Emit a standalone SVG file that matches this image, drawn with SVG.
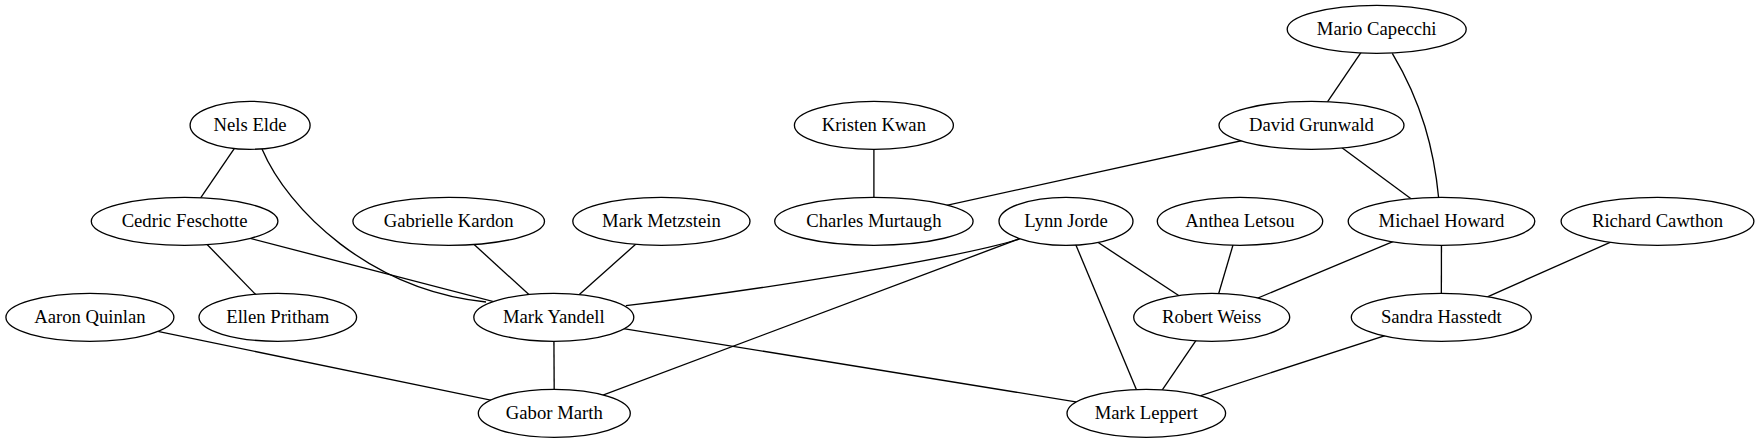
<svg xmlns="http://www.w3.org/2000/svg" width="1761" height="443" viewBox="0 0 1761 443">
<style>
.n ellipse{fill:#fff;stroke:#000;stroke-width:1.33}
.n text{font-family:"Liberation Serif","Times New Roman",serif;font-size:18.67px;text-anchor:middle;fill:#000}
#edges line,#edges path{stroke:#000;stroke-width:1.33;fill:none}
</style>
<rect width="1761" height="443" fill="#fff"/>
<g id="edges">
<line x1="1376.7" y1="29.3" x2="1311.5" y2="125.3"/>
<path d="M1392.3,53.3 C1422,103 1434,150 1438.6,197.5"/>
<line x1="250.1" y1="125.3" x2="184.6" y2="221.3"/>
<path d="M262,149 C288,210 370,290 486,302"/>
<line x1="873.9" y1="125.3" x2="873.9" y2="221.3"/>
<line x1="1311.5" y1="125.3" x2="873.9" y2="221.3"/>
<line x1="1311.5" y1="125.3" x2="1441.5" y2="221.3"/>
<line x1="184.6" y1="221.3" x2="277.8" y2="317.3"/>
<line x1="184.6" y1="221.3" x2="553.8" y2="317.3"/>
<line x1="448.7" y1="221.3" x2="553.8" y2="317.3"/>
<line x1="661.4" y1="221.3" x2="553.8" y2="317.3"/>
<path d="M1019.3,239 C960,258 760,290 625.9,305.7"/>
<line x1="1066" y1="221.3" x2="554.3" y2="413.3"/>
<line x1="1066" y1="221.3" x2="1146.3" y2="413.3"/>
<line x1="1066" y1="221.3" x2="1211.7" y2="317.3"/>
<line x1="1240" y1="221.3" x2="1211.7" y2="317.3"/>
<line x1="1441.5" y1="221.3" x2="1211.7" y2="317.3"/>
<line x1="1441.5" y1="221.3" x2="1441.3" y2="317.3"/>
<line x1="1657.5" y1="221.3" x2="1441.3" y2="317.3"/>
<line x1="89.9" y1="317.3" x2="554.3" y2="413.3"/>
<line x1="553.8" y1="317.3" x2="554.3" y2="413.3"/>
<line x1="553.8" y1="317.3" x2="1146.3" y2="413.3"/>
<line x1="1211.7" y1="317.3" x2="1146.3" y2="413.3"/>
<line x1="1441.3" y1="317.3" x2="1146.3" y2="413.3"/>
</g>
<g id="mario" class="n"><ellipse cx="1376.7" cy="29.3" rx="89.5" ry="24"/><text x="1376.7" y="35.3">Mario Capecchi</text></g>
<g id="nels" class="n"><ellipse cx="250.1" cy="125.3" rx="60" ry="24"/><text x="250.1" y="131.3">Nels Elde</text></g>
<g id="kristen" class="n"><ellipse cx="873.9" cy="125.3" rx="79.5" ry="24"/><text x="873.9" y="131.3">Kristen Kwan</text></g>
<g id="david" class="n"><ellipse cx="1311.5" cy="125.3" rx="92.5" ry="24"/><text x="1311.5" y="131.3">David Grunwald</text></g>
<g id="cedric" class="n"><ellipse cx="184.6" cy="221.3" rx="93.3" ry="24"/><text x="184.6" y="227.3">Cedric Feschotte</text></g>
<g id="gabrielle" class="n"><ellipse cx="448.7" cy="221.3" rx="95.8" ry="24"/><text x="448.7" y="227.3">Gabrielle Kardon</text></g>
<g id="metzstein" class="n"><ellipse cx="661.4" cy="221.3" rx="88.6" ry="24"/><text x="661.4" y="227.3">Mark Metzstein</text></g>
<g id="charles" class="n"><ellipse cx="873.9" cy="221.3" rx="99.2" ry="24"/><text x="873.9" y="227.3">Charles Murtaugh</text></g>
<g id="lynn" class="n"><ellipse cx="1066" cy="221.3" rx="67" ry="24"/><text x="1066" y="227.3">Lynn Jorde</text></g>
<g id="anthea" class="n"><ellipse cx="1240" cy="221.3" rx="82.7" ry="24"/><text x="1240" y="227.3">Anthea Letsou</text></g>
<g id="michael" class="n"><ellipse cx="1441.5" cy="221.3" rx="93.3" ry="24"/><text x="1441.5" y="227.3">Michael Howard</text></g>
<g id="richard" class="n"><ellipse cx="1657.5" cy="221.3" rx="96.4" ry="24"/><text x="1657.5" y="227.3">Richard Cawthon</text></g>
<g id="aaron" class="n"><ellipse cx="89.9" cy="317.3" rx="84" ry="24"/><text x="89.9" y="323.3">Aaron Quinlan</text></g>
<g id="ellen" class="n"><ellipse cx="277.8" cy="317.3" rx="78.8" ry="24"/><text x="277.8" y="323.3">Ellen Pritham</text></g>
<g id="yandell" class="n"><ellipse cx="553.8" cy="317.3" rx="80" ry="24"/><text x="553.8" y="323.3">Mark Yandell</text></g>
<g id="weiss" class="n"><ellipse cx="1211.7" cy="317.3" rx="78" ry="24"/><text x="1211.7" y="323.3">Robert Weiss</text></g>
<g id="sandra" class="n"><ellipse cx="1441.3" cy="317.3" rx="90" ry="24"/><text x="1441.3" y="323.3">Sandra Hasstedt</text></g>
<g id="gabor" class="n"><ellipse cx="554.3" cy="413.3" rx="76" ry="24"/><text x="554.3" y="419.3">Gabor Marth</text></g>
<g id="leppert" class="n"><ellipse cx="1146.3" cy="413.3" rx="79.3" ry="24"/><text x="1146.3" y="419.3">Mark Leppert</text></g>
</svg>
